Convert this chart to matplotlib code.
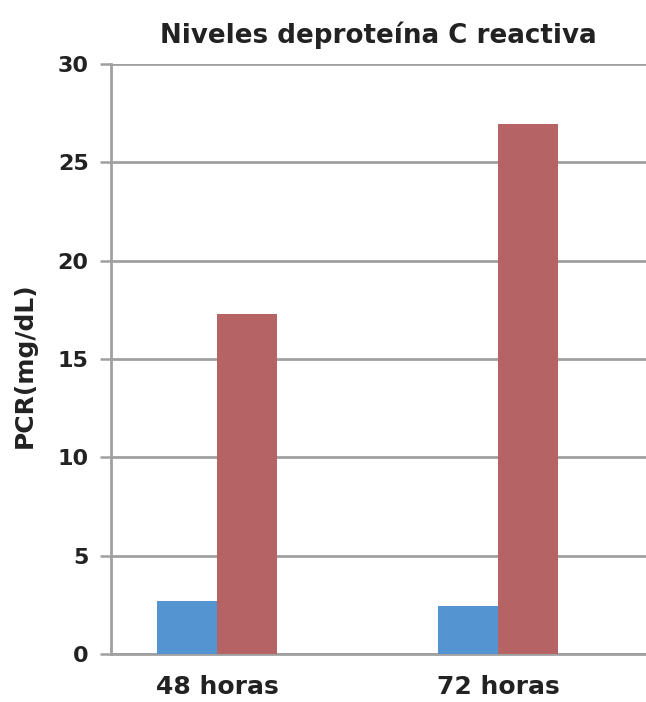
import numpy as np
import matplotlib
matplotlib.use("Agg")
from matplotlib import pyplot as plt

categories = ["48 horas", "72 horas"]
serie_1 = [2.7, 2.45]
serie_2 = [17.3, 26.95]
yticks = [0, 5, 10, 15, 20, 25, 30]

blue = "#5494D1"
red = "#B56365"
grey = "#A0A0A0"

plt.rcParams['font.family'] = ['DejaVu Sans']
plt.rcParams['font.weight'] = 'bold'

fig = plt.figure(figsize=(6.46, 7.02), dpi=100)
ax = fig.add_axes([0.1714, 0.0684, 0.8286, 0.8405])

x = np.arange(len(categories))
w = 0.2135
ax.bar(x - w / 2, serie_1, w, color=blue, zorder=3)
ax.bar(x + w / 2, serie_2, w, color=red, zorder=3)

ax.set_xlim(-0.378, 1.527)
ax.set_ylim(0, 30)
ax.set_yticks(yticks)
ax.set_xticks(x)
ax.set_xticklabels(categories, fontsize=18, fontweight='bold', color='#222222')
ax.tick_params(axis='y', labelsize=16, length=8, width=1.8, color=grey,
               direction='out', pad=8, labelcolor='#222222')
ax.tick_params(axis='x', length=0, pad=15)
ax.yaxis.grid(True, color=grey, linewidth=2, zorder=0)

for s in ['top', 'right']:
    ax.spines[s].set_visible(False)
for s in ['left', 'bottom']:
    ax.spines[s].set_color(grey)
    ax.spines[s].set_linewidth(2)

ax.set_ylabel("PCR(mg/dL)", fontsize=18, fontweight='bold', color='#222222')
ax.yaxis.set_label_coords(-0.138, 0.49)
ax.set_title("Niveles deproteína C reactiva", fontsize=18.8, fontweight='bold',
             color='#222222', pad=15)

fig.savefig("out.png", dpi=100)
